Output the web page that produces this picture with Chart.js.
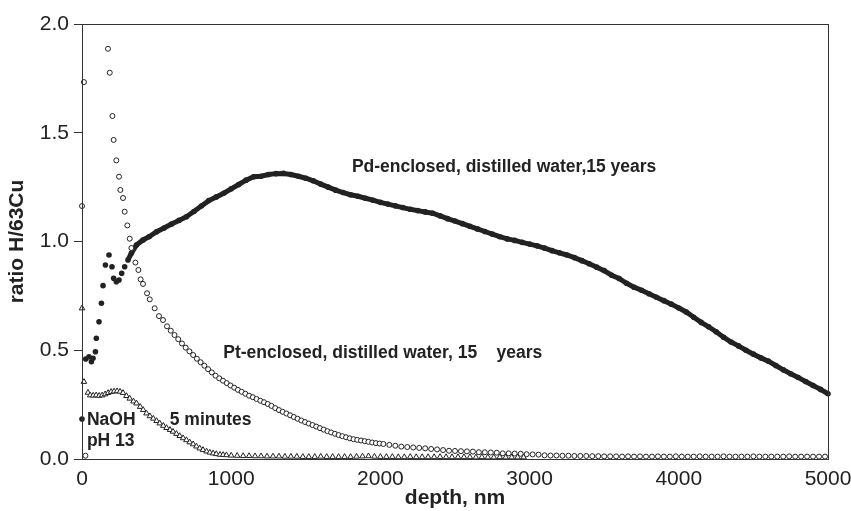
<!DOCTYPE html>
<html>
<head>
<meta charset="utf-8">
<script src="https://cdn.jsdelivr.net/npm/chart.js@4.4.0/dist/chart.umd.min.js"></script>
<style>
  html, body { margin: 0; padding: 0; background: #fff; }
  #wrap { width: 851px; height: 511px; }
</style>
</head>
<body>
<div id="wrap"><canvas id="chart" width="851" height="511"></canvas></div>
<script>
// depth (nm) and H/63Cu ratio
const pdDepth = [0, 25, 47, 63, 74, 90, 96, 114, 130, 141, 157, 181, 201, 212, 230, 248, 266, 286, 308, 331, 365, 409, 450, 500, 550, 600, 650, 700, 750, 800, 850, 900, 950, 1000, 1050, 1100, 1150, 1200, 1250, 1300, 1350, 1400, 1450, 1500, 1550, 1600, 1650, 1700, 1750, 1800, 1850, 1900, 1950, 2000, 2050, 2100, 2150, 2200, 2250, 2300, 2350, 2400, 2450, 2500, 2550, 2600, 2650, 2700, 2750, 2800, 2850, 2900, 2950, 3000, 3050, 3100, 3150, 3200, 3250, 3300, 3350, 3400, 3450, 3500, 3550, 3600, 3650, 3700, 3750, 3800, 3850, 3900, 3950, 4000, 4050, 4100, 4150, 4200, 4250, 4300, 4350, 4400, 4450, 4500, 4550, 4600, 4650, 4700, 4750, 4800, 4850, 4900, 4950, 5000];
const pdRatio = [0.184, 0.460, 0.470, 0.447, 0.463, 0.493, 0.555, 0.631, 0.716, 0.797, 0.892, 0.938, 0.884, 0.831, 0.815, 0.823, 0.854, 0.884, 0.915, 0.946, 0.984, 1.007, 1.022, 1.045, 1.062, 1.080, 1.097, 1.114, 1.138, 1.163, 1.188, 1.205, 1.222, 1.242, 1.262, 1.282, 1.298, 1.300, 1.308, 1.312, 1.313, 1.308, 1.300, 1.291, 1.279, 1.264, 1.250, 1.236, 1.225, 1.215, 1.208, 1.199, 1.190, 1.180, 1.172, 1.164, 1.156, 1.148, 1.142, 1.136, 1.130, 1.118, 1.105, 1.094, 1.082, 1.070, 1.058, 1.046, 1.034, 1.022, 1.012, 1.005, 0.996, 0.988, 0.980, 0.970, 0.958, 0.948, 0.938, 0.926, 0.912, 0.898, 0.882, 0.866, 0.845, 0.830, 0.808, 0.790, 0.776, 0.760, 0.744, 0.728, 0.712, 0.694, 0.676, 0.652, 0.628, 0.608, 0.585, 0.560, 0.538, 0.520, 0.500, 0.482, 0.465, 0.450, 0.430, 0.410, 0.392, 0.375, 0.356, 0.338, 0.320, 0.300];

const ptDepth = [0, 13, 23, 174, 186, 204, 212, 230, 248, 257, 275, 286, 304, 320, 331, 358, 378, 393, 409, 436, 454, 487, 516, 543, 570, 595, 620, 645, 670, 695, 720, 745, 770, 795, 820, 845, 870, 895, 920, 945, 970, 995, 1020, 1045, 1070, 1095, 1120, 1145, 1170, 1195, 1220, 1245, 1270, 1295, 1320, 1345, 1370, 1395, 1420, 1445, 1470, 1495, 1520, 1545, 1570, 1595, 1620, 1645, 1670, 1695, 1720, 1745, 1770, 1795, 1820, 1845, 1870, 1895, 1920, 1945, 1970, 1995, 2020, 2060, 2100, 2140, 2180, 2220, 2260, 2300, 2340, 2380, 2420, 2460, 2500, 2540, 2580, 2620, 2660, 2700, 2740, 2780, 2820, 2860, 2900, 2940, 2980, 3020, 3060, 3100, 3140, 3180, 3220, 3260, 3300, 3340, 3380, 3420, 3460, 3500, 3540, 3580, 3620, 3660, 3700, 3740, 3780, 3820, 3860, 3900, 3940, 3980, 4020, 4060, 4100, 4140, 4180, 4220, 4260, 4300, 4340, 4380, 4420, 4460, 4500, 4540, 4580, 4620, 4660, 4700, 4740, 4780, 4820, 4860, 4900, 4940, 4980];
const ptRatio = [1.163, 1.733, 0.015, 1.886, 1.776, 1.577, 1.467, 1.373, 1.298, 1.237, 1.200, 1.137, 1.074, 1.013, 0.970, 0.903, 0.869, 0.826, 0.805, 0.762, 0.734, 0.693, 0.657, 0.639, 0.610, 0.590, 0.570, 0.551, 0.531, 0.512, 0.495, 0.478, 0.461, 0.445, 0.429, 0.413, 0.398, 0.383, 0.371, 0.360, 0.349, 0.338, 0.328, 0.318, 0.309, 0.300, 0.291, 0.284, 0.276, 0.268, 0.261, 0.253, 0.244, 0.234, 0.225, 0.217, 0.209, 0.201, 0.193, 0.185, 0.177, 0.170, 0.163, 0.156, 0.149, 0.142, 0.135, 0.128, 0.122, 0.116, 0.110, 0.105, 0.100, 0.095, 0.091, 0.088, 0.085, 0.082, 0.079, 0.076, 0.073, 0.071, 0.069, 0.065, 0.061, 0.057, 0.055, 0.053, 0.051, 0.049, 0.046, 0.044, 0.041, 0.038, 0.037, 0.036, 0.035, 0.034, 0.031, 0.031, 0.030, 0.029, 0.026, 0.026, 0.025, 0.024, 0.022, 0.021, 0.020, 0.017, 0.016, 0.016, 0.015, 0.015, 0.014, 0.014, 0.014, 0.013, 0.013, 0.012, 0.012, 0.012, 0.011, 0.012, 0.011, 0.012, 0.011, 0.011, 0.012, 0.011, 0.011, 0.012, 0.011, 0.011, 0.011, 0.012, 0.011, 0.011, 0.011, 0.012, 0.011, 0.011, 0.011, 0.011, 0.012, 0.011, 0.011, 0.011, 0.011, 0.011, 0.012, 0.011, 0.011, 0.011, 0.011, 0.011, 0.011];

const naohDepth = [0, 13, 40, 55, 75, 95, 115, 135, 155, 175, 195, 215, 235, 255, 275, 298, 320, 345, 365, 390, 410, 432, 455, 478, 500, 521, 545, 567, 590, 610, 633, 655, 678, 700, 722, 745, 767, 789, 811, 835, 857, 879, 900, 925, 946, 968, 1000, 1040, 1080, 1120, 1160, 1200, 1240, 1280, 1320, 1360, 1400, 1440, 1480, 1520, 1560, 1600, 1640, 1680, 1720, 1760, 1800, 1840, 1880, 1920, 1960, 2000, 2040, 2080, 2120, 2160, 2200, 2240, 2280, 2320, 2360, 2400, 2440, 2480, 2520, 2560, 2600, 2640, 2680, 2720, 2760, 2800, 2840, 2880, 2920, 2960];
const naohRatio = [0.693, 0.355, 0.305, 0.293, 0.292, 0.293, 0.291, 0.293, 0.298, 0.304, 0.309, 0.311, 0.312, 0.310, 0.304, 0.290, 0.278, 0.265, 0.256, 0.240, 0.226, 0.210, 0.197, 0.186, 0.175, 0.164, 0.153, 0.143, 0.134, 0.126, 0.116, 0.106, 0.096, 0.087, 0.077, 0.068, 0.058, 0.049, 0.042, 0.035, 0.030, 0.026, 0.023, 0.020, 0.019, 0.018, 0.016, 0.015, 0.014, 0.014, 0.013, 0.013, 0.012, 0.012, 0.012, 0.011, 0.011, 0.011, 0.010, 0.010, 0.010, 0.011, 0.010, 0.010, 0.010, 0.010, 0.010, 0.011, 0.012, 0.013, 0.011, 0.010, 0.010, 0.010, 0.009, 0.009, 0.010, 0.009, 0.009, 0.009, 0.009, 0.010, 0.009, 0.009, 0.009, 0.009, 0.009, 0.008, 0.009, 0.008, 0.008, 0.009, 0.008, 0.008, 0.008, 0.008];

const xTicks = [0, 1000, 2000, 3000, 4000, 5000];
const yTicks = [0, 0.5, 1.0, 1.5, 2.0];

const notes = [
  { text: 'Pd-enclosed, distilled water,15 years', x: 1809, y: 1.343 },
  { text: 'Pt-enclosed, distilled water, 15    years', x: 947, y: 0.487 },
  { text: 'NaOH', x: 33, y: 0.179 },
  { text: 'pH 13', x: 33, y: 0.080 },
  { text: '5 minutes', x: 588, y: 0.179 }
];

const ink = '#222';
const sans = "'Liberation Sans', Arial, sans-serif";
const tickFont = { family: sans, size: 21 };
const titleFont = { family: sans, size: 21, weight: 'bold' };

const pts = (xs, ys) => xs.map((x, i) => ({ x, y: ys[i] }));

// box round the plot and the text notes inside it
const frame = {
  id: 'frame',
  afterDatasetsDraw(chart) {
    const { ctx, chartArea: a, scales } = chart;
    ctx.save();
    ctx.strokeStyle = '#333';
    ctx.lineWidth = 1;
    ctx.strokeRect(a.left + 0.5, a.top + 0.5, a.right - a.left, a.bottom - a.top);
    ctx.fillStyle = ink;
    ctx.font = 'bold 17.5px ' + sans;
    ctx.textBaseline = 'middle';
    notes.forEach(n => {
      ctx.fillText(n.text, scales.x.getPixelForValue(n.x), scales.y.getPixelForValue(n.y));
    });
    ctx.restore();
  }
};

new Chart(document.getElementById('chart'), {
  type: 'scatter',
  data: {
    datasets: [
      {
        label: 'NaOH',
        data: pts(naohDepth, naohRatio),
        pointStyle: 'triangle',
        pointRadius: 3.2,
        borderWidth: 1,
        borderColor: ink,
        backgroundColor: '#fff',
        clip: false,
        order: 1
      },
      {
        label: 'Pt',
        data: pts(ptDepth, ptRatio),
        pointStyle: 'circle',
        pointRadius: 2.5,
        borderWidth: 1,
        borderColor: ink,
        backgroundColor: '#fff',
        clip: false,
        order: 2
      },
      {
        label: 'Pd',
        data: pts(pdDepth, pdRatio),
        showLine: true,
        borderWidth: 5,
        borderColor: ink,
        backgroundColor: ink,
        pointRadius: 2.8,
        pointBorderWidth: 0,
        segment: {
          borderColor: c => c.p0.parsed.x < 300 ? 'rgba(0,0,0,0)' : ink
        },
        clip: false,
        order: 3
      }
    ]
  },
  options: {
    responsive: false,
    animation: false,
    events: [],
    layout: { padding: { top: 24, right: 23, left: 0, bottom: 0 } },
    plugins: { legend: { display: false }, tooltip: { enabled: false } },
    scales: {
      x: {
        type: 'linear',
        min: 0, max: 5000,
        afterFit: s => { s.height = 52; s.paddingLeft = 0; s.paddingRight = 0; },
        afterBuildTicks: s => { s.ticks = xTicks.map(v => ({ value: v })); },
        grid: { display: false, drawTicks: false },
        border: { display: true, color: '#333', width: 1 },
        ticks: { color: ink, font: tickFont, padding: 8, maxRotation: 0, callback: v => String(v) },
        title: {
          display: true, text: 'depth, nm', color: ink, font: titleFont,
          padding: { top: -6, bottom: 0 }
        }
      },
      y: {
        type: 'linear',
        min: 0, max: 2,
        afterFit: s => { s.width = 82; s.paddingTop = 0; s.paddingBottom = 0; },
        afterBuildTicks: s => { s.ticks = yTicks.map(v => ({ value: v })); },
        grid: { drawOnChartArea: false, drawTicks: true, tickLength: 8, color: '#333' },
        border: { display: true, color: '#333', width: 1 },
        ticks: { color: ink, font: tickFont, padding: 5, callback: v => v.toFixed(1) },
        title: {
          display: true, text: 'ratio H/63Cu', color: ink, font: titleFont,
          padding: { top: 5, bottom: 0 }
        }
      }
    }
  },
  plugins: [frame]
});
</script>
</body>
</html>
